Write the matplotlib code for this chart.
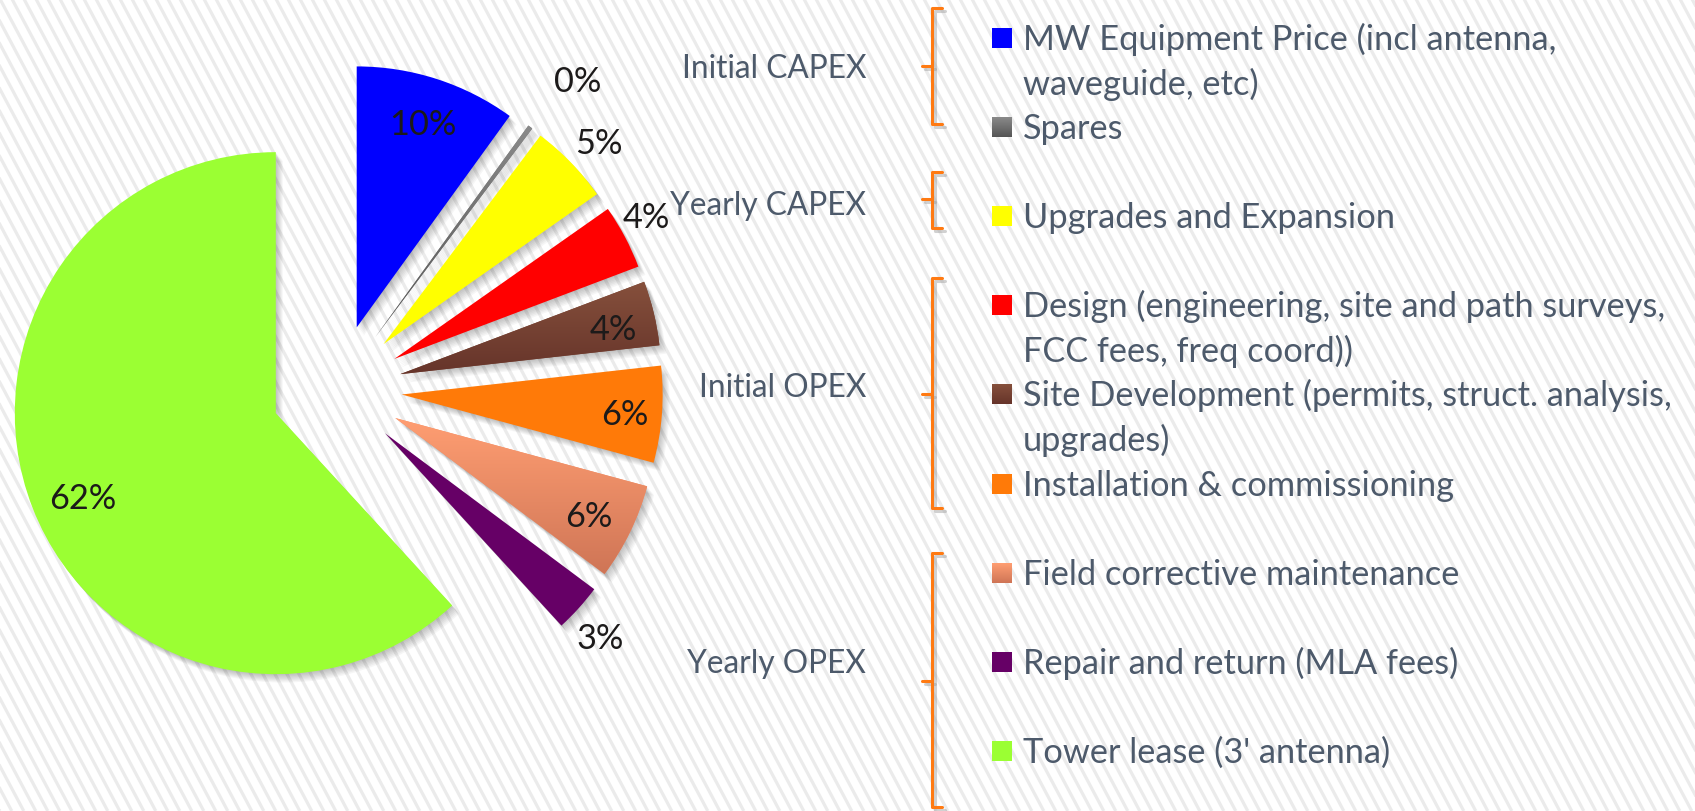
import numpy as np
import matplotlib
matplotlib.use("Agg")
import matplotlib.pyplot as plt
from matplotlib.patches import Wedge, Rectangle
from matplotlib.collections import LineCollection
from matplotlib.lines import Line2D

# ---------------- data ----------------
categories = [
    "MW Equipment Price (incl antenna,\nwaveguide, etc)",
    "Spares",
    "Upgrades and Expansion",
    "Design (engineering, site and path surveys,\nFCC fees, freq coord))",
    "Site Development (permits, struct. analysis,\nupgrades)",
    "Installation & commissioning",
    "Field corrective maintenance",
    "Repair and return (MLA fees)",
    "Tower lease (3' antenna)",
]
shares = [10.0, 0.3, 5.0, 4.0, 4.0, 6.0, 6.0, 3.0, 62.0]
colors = ["#0000FF", "#7A7A7A", "#FFFF00", "#FF0000", "#7A4534",
          "#FF7A08", "#F28E68", "#660066", "#9BFF33"]
# gradient (top, bottom) for shaded slices
gradients = {1: ("#8A8A8A", "#555555"), 4: ("#86503C", "#66342A"),
             6: ("#FF9E72", "#CF7556")}
groups = ["Initial CAPEX", "Yearly CAPEX", "Initial OPEX", "Yearly OPEX"]

# ---------------- layout ----------------
W, H = 1695, 812
R = 261.0
CENTER = (336.6, 390.5)
EXPLODE_FRAC = 0.25
label_dist = [0.82, 1.25, 1.13, 1.11, 0.835, 0.86, 0.83, 1.14, 0.81]
label_dang = [0.0, 2.0, 1.0, -1.5, 1.5, 0.5, 1.0, 1.5, -2.5]
legend_rows = [0, 2, 4, 6, 8, 10, 12, 14, 16]
row_base0, row_step = 50.0, 44.56
legend_sq_x, legend_text_x = 992, 1023
group_baselines = [78, 215, 397, 673]
group_right = 866
brackets = [(9, 67, 125), (173, 200, 229), (279, 395, 509), (554, 682, 808)]
bracket_x = 932
FONT = "Lato"
TEXT_COL = "#4D5A6B"
PCT_COL = "#1C1A1A"
BR_COL = "#FF7A12"

fig = plt.figure(figsize=(W / 100, H / 100), dpi=100)
fig.patch.set_facecolor("white")
ax = fig.add_axes([0, 0, 1, 1])

# background diagonal stripes
xs = np.arange(-600, W + 600, 12)
dx = H / np.tan(np.radians(62))
segs = [[(x0, 0), (x0 + dx, H)] for x0 in xs]
ax.add_collection(LineCollection(segs, colors="#EBEBEB", linewidths=2.3, zorder=0))

# pie
wedges, _ = ax.pie(shares, colors=colors, startangle=-90, counterclock=True,
                   radius=R, center=CENTER,
                   explode=[EXPLODE_FRAC * R] * len(shares),
                   wedgeprops=dict(linewidth=0), frame=True)
for w in wedges:
    w.set_zorder(3)

# soft shadows
for w in wedges:
    cx, cy = w.center
    for k in range(1, 8):
        s = Wedge((cx + 1.0 * k, cy + 1.2 * k), w.r, w.theta1, w.theta2,
                  facecolor="black", alpha=0.035, linewidth=0, zorder=2)
        ax.add_patch(s)

# gradients
for i, (ctop, cbot) in gradients.items():
    w = wedges[i]
    ext = w.get_path().get_extents(w.get_patch_transform())
    grad = np.linspace(0, 1, 256)[:, None]
    c1 = np.array(matplotlib.colors.to_rgb(ctop))
    c2 = np.array(matplotlib.colors.to_rgb(cbot))
    img = c1[None, None, :] * (1 - grad[:, :, None]) + c2[None, None, :] * grad[:, :, None]
    im = ax.imshow(img, extent=(ext.x0, ext.x1, ext.y1, ext.y0), aspect="auto",
                   zorder=4, interpolation="bilinear")
    im.set_clip_path(w)

ax.set_xlim(0, W)
ax.set_ylim(H, 0)
ax.set_aspect("equal")
ax.axis("off")

# fit font size
fig.canvas.draw()
rend = fig.canvas.get_renderer()
probe = ax.text(0, 0, "Design (engineering, site and path surveys,", fontsize=20, family=FONT)
wpx = probe.get_window_extent(rend).width
probe.remove()
FS = 20 * 644.0 / wpx
PFS = FS * 1.0
GFS = FS * 0.92

# percent labels
for w, v, d, da in zip(wedges, shares, label_dist, label_dang):
    th = np.radians(0.5 * (w.theta1 + w.theta2) + da)
    cx, cy = w.center
    x = cx + d * R * np.cos(th)
    y = cy + d * R * np.sin(th)
    ax.text(x, y, f"{v:.0f}%", ha="center", va="center", fontsize=PFS,
            family=FONT, color=PCT_COL, zorder=6)

# legend
for i, (lab, row) in enumerate(zip(categories, legend_rows)):
    base = row_base0 + row * row_step
    sq = Rectangle((legend_sq_x, base - 21), 20, 20, facecolor=colors[i],
                   linewidth=0, zorder=5)
    ax.add_patch(sq)
    if i in gradients:
        ctop, cbot = gradients[i]
        c1 = np.array(matplotlib.colors.to_rgb(ctop))
        c2 = np.array(matplotlib.colors.to_rgb(cbot))
        grad = np.linspace(0, 1, 64)[:, None]
        img = c1[None, None, :] * (1 - grad[:, :, None]) + c2[None, None, :] * grad[:, :, None]
        ax.imshow(img, extent=(legend_sq_x, legend_sq_x + 20, base - 1, base - 21),
                  aspect="auto", zorder=6)
    for j, line in enumerate(lab.split("\n")):
        ax.text(legend_text_x, base + j * row_step, line, ha="left", va="baseline",
                fontsize=FS, family=FONT, color=TEXT_COL, zorder=6)

# group labels
for g, yb in zip(groups, group_baselines):
    ax.text(group_right, yb, g, ha="right", va="baseline", fontsize=GFS,
            family=FONT, color=TEXT_COL, zorder=6)

# brackets
for top, mid, bot in brackets:
    xs_b = [bracket_x + 10, bracket_x, bracket_x, bracket_x + 10]
    ys_b = [top, top, bot, bot]
    for off, col, a in [((2.5, 3), "#9A9A9A", 0.45), ((0, 0), BR_COL, 1.0)]:
        ax.add_line(Line2D([x + off[0] for x in xs_b], [y + off[1] for y in ys_b],
                           color=col, alpha=a, linewidth=2.2,
                           solid_joinstyle="round", solid_capstyle="round", zorder=5))
        ax.add_line(Line2D([bracket_x - 10 + off[0], bracket_x + off[0]],
                           [mid + off[1], mid + off[1]], color=col, alpha=a,
                           linewidth=2.2, solid_capstyle="round", zorder=5))

fig.savefig("out.png", dpi=100, facecolor="white")
